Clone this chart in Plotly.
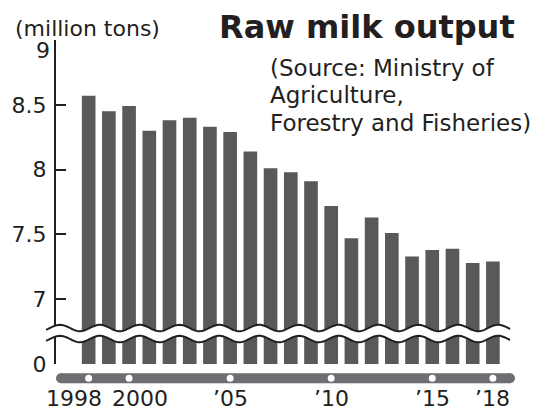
import numpy as np
import plotly.graph_objects as go

# Raw milk output, million tons
years = list(range(1998, 2019))
output = [8.57, 8.45, 8.49, 8.30, 8.38, 8.40, 8.33, 8.29, 8.14, 8.01, 7.98,
          7.91, 7.72, 7.47, 7.63, 7.51, 7.33, 7.38, 7.39, 7.28, 7.29]

upper_ticks = [7, 7.5, 8, 8.5, 9]
upper_tick_text = ["7", "7.5", "8", "8.5", ""]
lower_ticks = [0]
lower_tick_text = ["0"]

year_ticks = [1998, 2000, 2005, 2010, 2015, 2018]
year_text = ["1998", "2000", "\u201905", "\u201910", "\u201915", "\u201918"]

title_text = "Raw milk output"
unit_text = "(million tons)"
source_lines = ["(Source: Ministry of", "Agriculture,", "Forestry and Fisheries)"]

# ---- geometry (pixels) ----
W, H = 542, 409
L, R, T, B = 54, 27, 40, 45
PW, PH = W - L - R, H - T - B
PX_PER_YEAR = 20.3
PX_PER_UNIT = 129.6
X0 = 1998 - (86.8 - L) / PX_PER_YEAR
X1 = X0 + PW / PX_PER_YEAR
BREAK_PX = 333.5
split = (H - B - BREAK_PX) / PH
Y_LOW = 9 - (BREAK_PX - T) / PX_PER_UNIT

FONT = "DejaVu Sans"
INK = "#231f20"
BAR = "#58595b"
RAIL = "#6d6e71"


def px_x(p):
    return (p - L) / PW


def px_y(p):
    return (H - B - p) / PH


fig = go.Figure()
for ya in ("y", "y2"):
    fig.add_trace(go.Bar(x=years, y=output, yaxis=ya, xaxis="x",
                         width=0.675, marker=dict(color=BAR, line=dict(width=0)),
                         hoverinfo="skip", showlegend=False))

shapes = []

# axis break: white band between two wavy lines
xs = np.linspace(44, 510, 300)


def wave(c):
    return c - 3.2 * np.cos(2 * np.pi * (xs - 58) / 40)


def path(px_list, py_list, close=False):
    pts = [f"{px_x(a):.5f},{px_y(b):.5f}" for a, b in zip(px_list, py_list)]
    return "M" + " L".join(pts) + (" Z" if close else "")


top_w, bot_w = wave(328), wave(339)
shapes.append(dict(type="path", xref="paper", yref="paper", layer="above",
                   path=path(list(xs) + list(xs[::-1]),
                             list(top_w) + list(bot_w[::-1]), close=True),
                   fillcolor="white", line=dict(width=0)))
for wv in (top_w, bot_w):
    shapes.append(dict(type="path", xref="paper", yref="paper", layer="above",
                       path=path(xs, wv), line=dict(color=INK, width=2)))

# rounded rail along the bottom with white year markers
rail_y0, rail_y1 = 373.3, 383.3
rad = (rail_y1 - rail_y0) / 2
rail_l, rail_r = 54, 515
shapes.append(dict(type="rect", xref="paper", yref="paper", layer="above",
                   x0=px_x(rail_l + rad), x1=px_x(rail_r - rad),
                   y0=px_y(rail_y1), y1=px_y(rail_y0),
                   fillcolor=RAIL, line=dict(width=0)))
for cx in (rail_l + rad, rail_r - rad):
    shapes.append(dict(type="circle", xref="paper", yref="paper", layer="above",
                       x0=px_x(cx - rad), x1=px_x(cx + rad),
                       y0=px_y(rail_y1), y1=px_y(rail_y0),
                       fillcolor=RAIL, line=dict(width=0)))
dot_r = 3.5 / PX_PER_YEAR
for yr in year_ticks:
    shapes.append(dict(type="circle", xref="x", yref="paper", layer="above",
                       x0=yr - dot_r, x1=yr + dot_r,
                       y0=px_y(378.3 + 3.5), y1=px_y(378.3 - 3.5),
                       fillcolor="white", line=dict(width=0)))

annotations = []
label_nudge = {1998: -0.71, 2000: 0.56}
for yr, txt in zip(year_ticks, year_text):
    annotations.append(dict(x=yr + label_nudge.get(yr, 0), xref="x",
                            y=px_y(398.5), yref="paper", text=txt,
                            showarrow=False, xanchor="center", yanchor="middle",
                            font=dict(family=FONT, size=22, color=INK)))
annotations.append(dict(x=px_x(49.5), xref="paper", y=px_y(50), yref="paper",
                        text="9", showarrow=False, xanchor="right",
                        yanchor="middle",
                        font=dict(family=FONT, size=22, color=INK)))
annotations.append(dict(x=px_x(11), xref="paper", y=px_y(28), yref="paper",
                        text=unit_text, showarrow=False, xanchor="left",
                        yanchor="middle",
                        font=dict(family=FONT, size=22, color=INK)))
annotations.append(dict(x=px_x(366), xref="paper", y=px_y(27), yref="paper",
                        text=f"<b>{title_text}</b>", showarrow=False,
                        xanchor="center", yanchor="middle",
                        font=dict(family=FONT, size=32, color=INK)))
for line, cy in zip(source_lines, (67.5, 95.3, 122.5)):
    annotations.append(dict(x=px_x(267), xref="paper", y=px_y(cy), yref="paper",
                            text=line, showarrow=False, xanchor="left",
                            yanchor="middle", align="left",
                            font=dict(family=FONT, size=23, color=INK)))

axis_common = dict(showgrid=False, zeroline=False, showline=True,
                   linecolor=INK, linewidth=2, ticks="inside",
                   tickcolor=INK, tickwidth=2, ticklabelstandoff=3,
                   tickfont=dict(family=FONT, size=22, color=INK))

fig.update_layout(
    width=W, height=H,
    margin=dict(l=L, r=R, t=T, b=B, pad=0),
    paper_bgcolor="white", plot_bgcolor="white",
    showlegend=False,
    xaxis=dict(range=[X0, X1], showgrid=False, zeroline=False,
               showline=False, showticklabels=False, ticks="",
               anchor="y2"),
    yaxis=dict(domain=[split, 1], range=[Y_LOW, 9.0001], anchor="x",
               tickvals=upper_ticks, ticktext=upper_tick_text, ticklen=10,
               **axis_common),
    yaxis2=dict(domain=[0, split], range=[0, 1], anchor="x",
                tickvals=lower_ticks, ticktext=lower_tick_text, ticklen=7,
                **axis_common),
    shapes=shapes,
    annotations=annotations,
)

fig.write_html("out.html")
